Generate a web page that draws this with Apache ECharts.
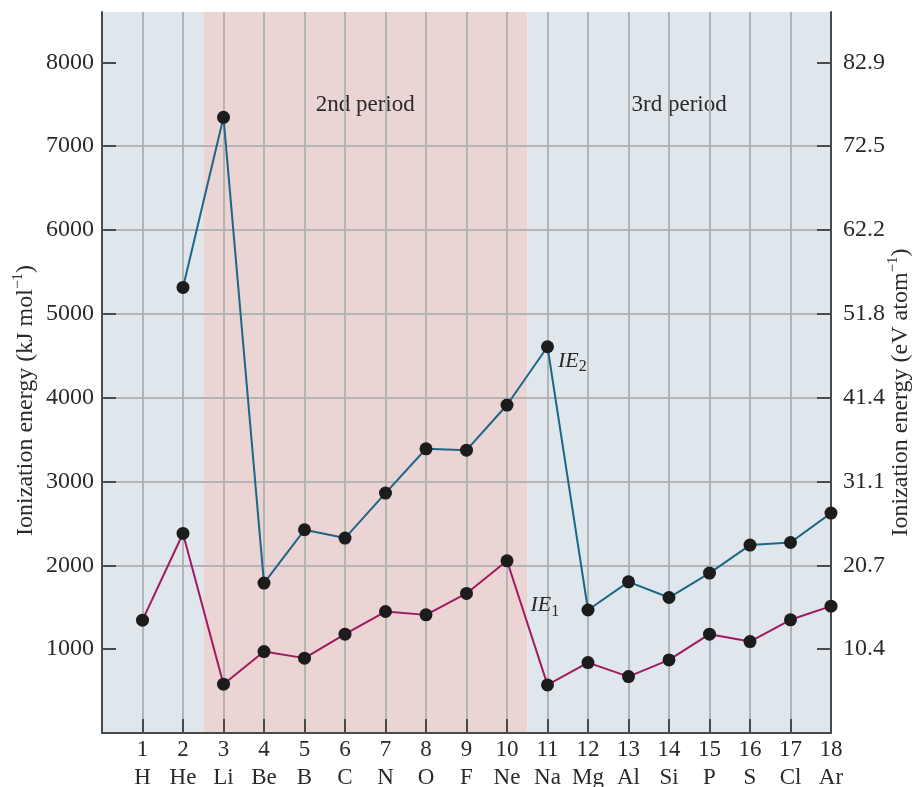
<!DOCTYPE html>
<html>
<head>
<meta charset="utf-8">
<script src="https://cdn.jsdelivr.net/npm/echarts@6/dist/echarts.min.js"></script>
<style>
  html, body { margin: 0; padding: 0; background: #ffffff; }
  #chart { width: 916px; height: 787px; }
</style>
</head>
<body>
<div id="chart"></div>
<script>
// Elements of the first three periods
const atomicNumbers = [1, 2, 3, 4, 5, 6, 7, 8, 9, 10, 11, 12, 13, 14, 15, 16, 17, 18];
const elementSymbols = ['H', 'He', 'Li', 'Be', 'B', 'C', 'N', 'O', 'F', 'Ne', 'Na', 'Mg', 'Al', 'Si', 'P', 'S', 'Cl', 'Ar'];

// First and second ionization energies, kJ mol^-1 (H has no second)
const firstIE = [1346, 2380, 582, 971, 893, 1179, 1449, 1409, 1665, 2054, 574, 840, 673, 872, 1179, 1091, 1350, 1513];
const secondIE = [null, 5315, 7344, 1788, 2424, 2325, 2862, 3390, 3374, 3912, 4607, 1467, 1803, 1616, 1907, 2241, 2272, 2623];

// Axis ticks: kJ mol^-1 on the left, the same levels in eV atom^-1 on the right
const kjTicks = [1000, 2000, 3000, 4000, 5000, 6000, 7000, 8000];
const evTickLabels = ['10.4', '20.7', '31.1', '41.4', '51.8', '62.2', '72.5', '82.9'];

// Shaded period bands along the atomic-number axis
const periodNames = ['', '2nd period', '3rd period'];
const periodStarts = [0, 2.5, 10.5];
const periodEnds = [2.5, 10.5, 18];

const SERIF = '"Liberation Serif", "DejaVu Serif", serif';
const TEXT = '#2a2a2a';
const AXIS = '#4a4a4a';
const GRID = '#b4b4b4';
const bandColors = ['#dfe7ed', '#ebd4d4', '#dfe7ed'];

const chart = echarts.init(document.getElementById('chart'), null, { renderer: 'canvas' });

// Axis titles with a raised "−1"
const supRich = {
  main: { fontFamily: SERIF, fontSize: 24, color: TEXT, lineHeight: 24, verticalAlign: 'bottom' },
  sup: { fontFamily: SERIF, fontSize: 15, color: TEXT, lineHeight: 27, verticalAlign: 'top' }
};
// Italic IE with a lowered index
const subRich = {
  ie: { fontFamily: SERIF, fontStyle: 'italic', fontSize: 22, color: TEXT, lineHeight: 22, verticalAlign: 'top' },
  sub: { fontFamily: SERIF, fontSize: 16, color: TEXT, lineHeight: 25, verticalAlign: 'bottom' }
};

const ie2Data = [];
atomicNumbers.forEach((n, i) => {
  if (secondIE[i] == null) return;
  const item = { value: [n, secondIE[i]] };
  if (elementSymbols[i] === 'Na') {
    item.label = { show: true, position: [17, 10], formatter: '{ie|IE}{sub|2}', rich: subRich };
  }
  ie2Data.push(item);
});

const ie1Data = atomicNumbers.map((n, i) => {
  const item = { value: [n, firstIE[i]] };
  if (elementSymbols[i] === 'Ne') {
    item.label = { show: true, position: [30, 40], formatter: '{ie|IE}{sub|1}', rich: subRich };
  }
  return item;
});

const bandData = periodNames.map((name, i) => [
  { xAxis: periodStarts[i], name: name, itemStyle: { color: bandColors[i] } },
  { xAxis: periodEnds[i] }
]);

const option = {
  animation: false,
  backgroundColor: '#ffffff',
  textStyle: { fontFamily: SERIF },
  grid: { left: 102, right: 85, top: 12, bottom: 54, containLabel: false, outerBoundsMode: 'none' },
  xAxis: {
    type: 'value',
    min: 0,
    max: 18,
    interval: 1,
    z: 1.5,
    axisLine: { show: true, lineStyle: { color: AXIS, width: 2 } },
    axisTick: { show: true, inside: true, length: 14, lineStyle: { color: AXIS, width: 2 } },
    axisLabel: {
      margin: 3,
      fontFamily: SERIF,
      fontSize: 23,
      lineHeight: 28,
      color: TEXT,
      hideOverlap: false,
      formatter: v => (v >= 1 && v <= 18 ? v + '\n' + elementSymbols[v - 1] : '')
    },
    splitLine: { show: true, lineStyle: { color: GRID, width: 2 } }
  },
  yAxis: [
    {
      type: 'value',
      position: 'left',
      min: 0,
      max: 8600,
      interval: 1000,
      z: 1.5,
      name: '{main|Ionization energy (kJ mol}{sup|−1}{main|)}',
      nameLocation: 'middle',
      nameRotate: 90,
      nameGap: 64,
      nameMoveOverlap: false,
      nameTextStyle: { rich: supRich, padding: [0, 56, 0, 0] },
      axisLine: { show: true, lineStyle: { color: AXIS, width: 2 } },
      axisTick: { show: true, inside: true, length: 14, customValues: kjTicks, lineStyle: { color: AXIS, width: 2 } },
      axisLabel: {
        customValues: kjTicks,
        margin: 8,
        fontFamily: SERIF,
        fontSize: 24,
        color: TEXT,
        formatter: v => String(v)
      },
      splitLine: { show: true, showMinLine: false, showMaxLine: false, lineStyle: { color: GRID, width: 2 } }
    },
    {
      type: 'value',
      position: 'right',
      min: 0,
      max: 8600,
      interval: 1000,
      z: 1.5,
      name: '{main|Ionization energy (eV atom}{sup|−1}{main|)}',
      nameLocation: 'middle',
      nameRotate: 90,
      nameGap: 55,
      nameMoveOverlap: false,
      nameTextStyle: { rich: supRich, padding: [0, 40, 0, 0] },
      axisLine: { show: true, lineStyle: { color: AXIS, width: 2 } },
      axisTick: { show: true, inside: true, length: 14, customValues: kjTicks, lineStyle: { color: AXIS, width: 2 } },
      axisLabel: {
        customValues: kjTicks,
        margin: 12,
        fontFamily: SERIF,
        fontSize: 24,
        color: TEXT,
        formatter: v => {
          const idx = kjTicks.indexOf(v);
          return idx >= 0 ? evTickLabels[idx] : '';
        }
      },
      splitLine: { show: false }
    }
  ],
  series: [
    {
      name: 'IE1',
      type: 'line',
      z: 3,
      data: ie1Data,
      symbol: 'circle',
      symbolSize: 13,
      itemStyle: { color: '#1c1c1c' },
      lineStyle: { color: '#a2195f', width: 2 },
      markArea: {
        silent: true,
        z: 1,
        label: {
          show: true,
          position: 'insideTop',
          offset: [0, 76],
          fontFamily: SERIF,
          fontSize: 23,
          color: TEXT
        },
        data: bandData
      }
    },
    {
      name: 'IE2',
      type: 'line',
      z: 3,
      data: ie2Data,
      symbol: 'circle',
      symbolSize: 13,
      itemStyle: { color: '#1c1c1c' },
      lineStyle: { color: '#1d6688', width: 2 }
    }
  ]
};

chart.setOption(option);
</script>
</body>
</html>
